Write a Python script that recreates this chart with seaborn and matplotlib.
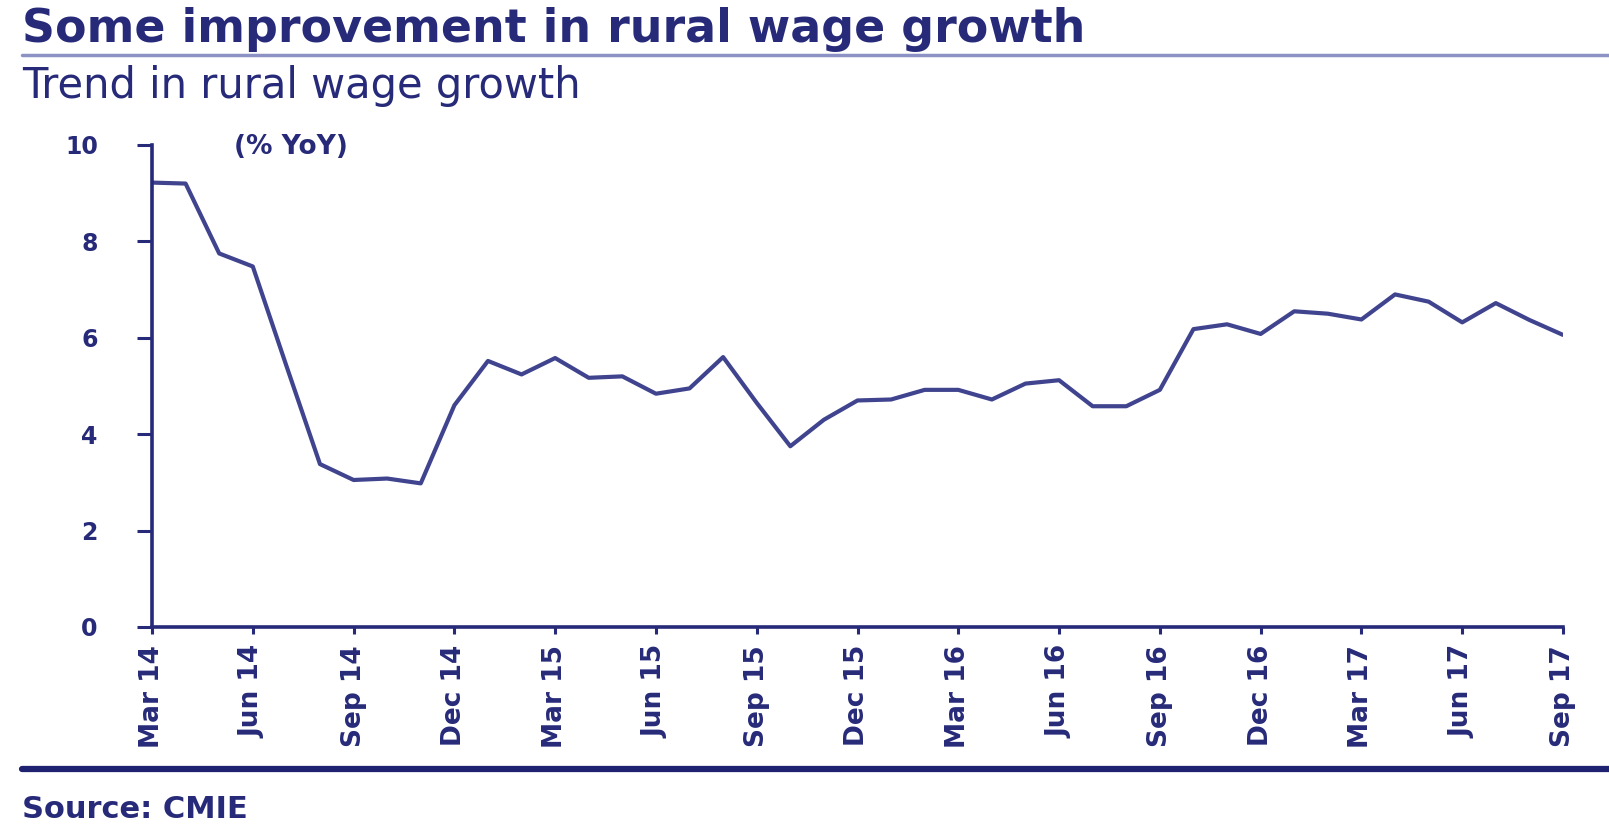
import matplotlib
matplotlib.use("Agg")
import matplotlib.pyplot as plt
import seaborn as sns
import pandas as pd
from matplotlib.lines import Line2D

# ---------------- data ----------------
months = ["Mar 14", "Apr 14", "May 14", "Jun 14", "Jul 14", "Aug 14", "Sep 14", "Oct 14", "Nov 14", "Dec 14",
          "Jan 15", "Feb 15", "Mar 15", "Apr 15", "May 15", "Jun 15", "Jul 15", "Aug 15", "Sep 15", "Oct 15",
          "Nov 15", "Dec 15", "Jan 16", "Feb 16", "Mar 16", "Apr 16", "May 16", "Jun 16", "Jul 16", "Aug 16",
          "Sep 16", "Oct 16", "Nov 16", "Dec 16", "Jan 17", "Feb 17", "Mar 17", "Apr 17", "May 17", "Jun 17",
          "Jul 17", "Aug 17", "Sep 17"]
wage_growth = [9.22, 9.20, 7.75, 7.48, 5.42, 3.38, 3.05, 3.08, 2.98, 4.60,
               5.52, 5.24, 5.58, 5.17, 5.20, 4.84, 4.95, 5.60, 4.65, 3.75,
               4.30, 4.70, 4.72, 4.92, 4.92, 4.72, 5.05, 5.12, 4.58, 4.58,
               4.92, 6.18, 6.28, 6.08, 6.55, 6.50, 6.38, 6.90, 6.75, 6.32,
               6.72, 6.37, 6.06]
tick_labels = ["Mar 14", "Jun 14", "Sep 14", "Dec 14", "Mar 15", "Jun 15", "Sep 15", "Dec 15",
               "Mar 16", "Jun 16", "Sep 16", "Dec 16", "Mar 17", "Jun 17", "Sep 17"]
y_ticks = [0, 2, 4, 6, 8, 10]

# ---------------- style ----------------
NAVY = "#262a78"
LINE = "#40448f"
RULE_LIGHT = "#8c92c4"

sns.set_theme(style="white")
plt.rcParams['font.family'] = ['DejaVu Sans']

W, H = 1609, 825
fig = plt.figure(figsize=(W / 100, H / 100), dpi=100)
fig.patch.set_facecolor("white")

ax = fig.add_axes([152 / W, 1 - 627 / H, (1563 - 152) / W, (627 - 145) / H])

df = pd.DataFrame({"month": months, "pos": range(len(months)), "growth": wage_growth})
sns.lineplot(data=df, x="pos", y="growth", ax=ax, color=LINE, linewidth=3.0)

ax.set_xlim(0, len(months) - 1)
ax.set_ylim(0, 10)
ax.set_xlabel("")
ax.set_ylabel("")

ax.set_yticks(y_ticks)
ax.set_yticklabels([str(v) for v in y_ticks], fontsize=17, fontweight="bold", color=NAVY)

xt = [months.index(l) for l in tick_labels]
ax.set_xticks(xt)
ax.set_xticklabels(tick_labels, rotation=90, fontsize=19, fontweight="bold", color=NAVY)

for s in ["top", "right"]:
    ax.spines[s].set_visible(False)
for s in ["left", "bottom"]:
    ax.spines[s].set_color(NAVY)
    ax.spines[s].set_linewidth(2.6)

ax.tick_params(axis="y", which="major", direction="out", length=11, width=2.2, color=NAVY, pad=28, left=True)
ax.tick_params(axis="x", which="major", direction="out", length=5, width=2.2, color=NAVY, pad=8, bottom=True)
ax.grid(False)

ax.text(234 / W, 1 - 147 / H, "(% YoY)", transform=fig.transFigure, fontsize=19, fontweight="bold",
        color=NAVY, ha="left", va="center")

# ---------------- titles and rules ----------------
fig.text(22 / W, 1 - 29 / H, "Some improvement in rural wage growth", fontsize=33, fontweight="heavy",
         color=NAVY, ha="left", va="center")
fig.add_artist(Line2D([22 / W, 1.0], [1 - 55 / H, 1 - 55 / H], transform=fig.transFigure,
                      color=RULE_LIGHT, linewidth=2.5))
fig.text(22 / W, 1 - 86 / H, "Trend in rural wage growth", fontsize=30, color=NAVY,
         ha="left", va="center")

fig.add_artist(Line2D([22 / W, 1.0], [1 - 769 / H, 1 - 769 / H], transform=fig.transFigure,
                      color="#1e2270", linewidth=4.5))
fig.text(22 / W, 1 - 809 / H, "Source: CMIE", fontsize=22, fontweight="bold", color=NAVY,
         ha="left", va="center")

fig.savefig("out.png", dpi=100, facecolor="white")
